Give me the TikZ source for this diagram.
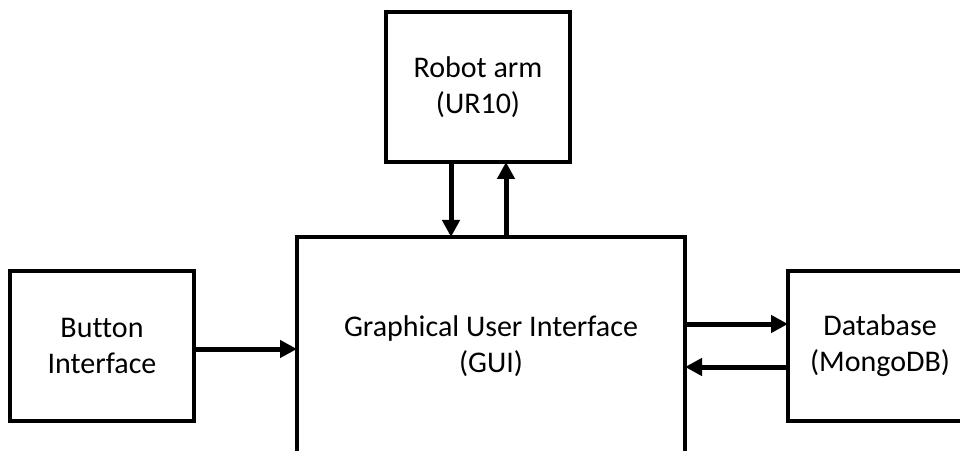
\documentclass[tikz,border=0pt]{standalone}
\usepackage{fontspec}
\setmainfont{Carlito}[Ligatures=NoCommon]
\usetikzlibrary{arrows.meta,positioning}

\begin{document}
\begin{tikzpicture}[-{Triangle[length=17pt,width=17pt]}, line width=5pt,
    font=\fontsize{30}{36}\selectfont,
    block/.style={draw, -, rectangle, line width=3.4pt, outer sep=0pt, align=center,
      minimum width=184pt, minimum height=150pt}]
    \useasboundingbox (0,0) rectangle (960pt,450pt);
    \clip (0,0) rectangle (960pt,450pt);
    \node (gui) [block, minimum width=388pt, minimum height=218pt] at (491pt,104pt)
      {Graphical User Interface\\(GUI)};
    \node (robot) [block, above=75pt of gui, xshift=-13pt] {Robot arm\\(UR10)};
    \node (button) [block, left=103pt of gui] {Button\\Interface};
    \node (db) [block, right=103pt of gui] {Database\\(MongoDB)};
    \draw ([xshift=-27pt]robot.south) -- ([xshift=-27pt]robot.south |- gui.north);
    \draw ([xshift=28pt]robot.south |- gui.north) -- ([xshift=28pt]robot.south);
    \draw ([yshift=-3pt]button.east) -- ([yshift=-3pt]button.east -| gui.west);
    \draw ([yshift=22pt]gui.east) -- ([yshift=22pt]gui.east -| db.west);
    \draw ([yshift=-21pt]db.west) -- ([yshift=-21pt]db.west -| gui.east);
  \end{tikzpicture}
\end{document}
